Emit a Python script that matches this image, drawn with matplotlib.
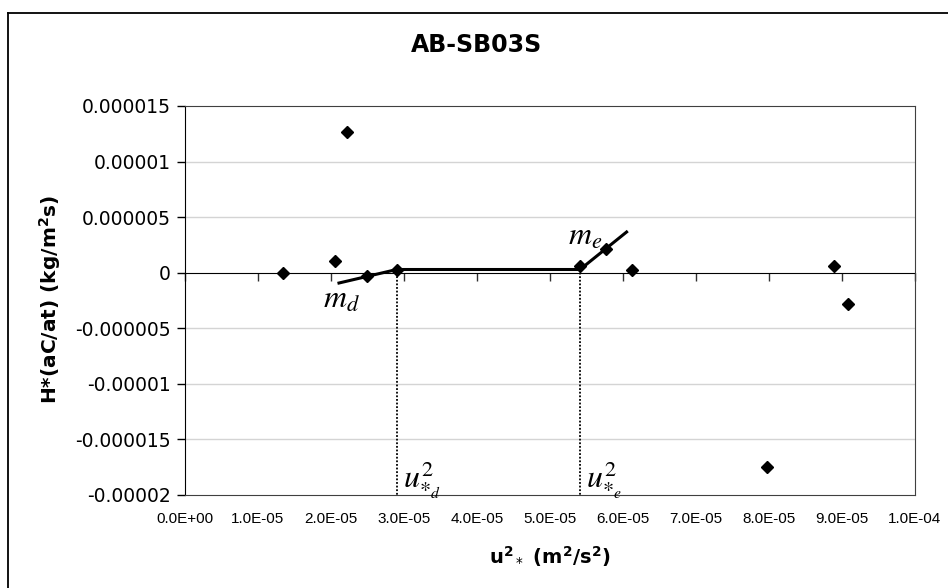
import matplotlib
matplotlib.use('Agg')
import matplotlib.pyplot as plt
from matplotlib.lines import Line2D
from matplotlib.ticker import FixedLocator, FixedFormatter

# measured points (u*^2 in m2/s2, H*(aC/at) in kg/m2s)
u2 = [1.34e-5, 2.06e-5, 2.22e-5, 2.49e-5, 2.91e-5, 5.415e-5, 5.77e-5, 6.13e-5, 7.97e-5, 8.89e-5, 9.08e-5]
flux = [0.0, 1.08e-6, 12.7e-6, -0.27e-6, 0.27e-6, 0.57e-6, 2.16e-6, 0.27e-6, -17.5e-6, 0.57e-6, -2.85e-6]

# fitted segments
md_x = [2.11e-5, 2.91e-5]
md_y = [-0.93e-6, 0.3e-6]
flat_x = [2.91e-5, 5.415e-5]
flat_y = [0.3e-6, 0.3e-6]
me_x = [5.415e-5, 6.05e-5]
me_y = [0.3e-6, 3.66e-6]
u_d = 2.91e-5
u_e = 5.415e-5

xticks = [i * 1e-5 for i in range(11)]
xlabels = ['0.0E+00', '1.0E-05', '2.0E-05', '3.0E-05', '4.0E-05', '5.0E-05',
           '6.0E-05', '7.0E-05', '8.0E-05', '9.0E-05', '1.0E-04']
yticks = [1.5e-5, 1e-5, 5e-6, 0, -5e-6, -1e-5, -1.5e-5, -2e-5]
ylabels = ['0.000015', '0.00001', '0.000005', '0', '-0.000005', '-0.00001', '-0.000015', '-0.00002']

fig = plt.figure(figsize=(9.48, 5.88), dpi=100)
ax = fig.add_axes([0.1951, 0.1582, 0.7700, 0.6616])
ax.set_xlim(0, 1e-4)
ax.set_ylim(-2e-5, 1.5e-5)

# gridlines
for v in yticks:
    if v not in (0, -2e-5, 1.5e-5):
        ax.axhline(v, color='#d4d4d4', lw=1.0, zorder=0)

ax.yaxis.set_major_locator(FixedLocator(yticks))
ax.yaxis.set_major_formatter(FixedFormatter(ylabels))
ax.tick_params(axis='y', direction='out', length=6, width=1, color='black', labelsize=13.5, pad=4)
ax.xaxis.set_major_locator(FixedLocator(xticks))
ax.xaxis.set_major_formatter(FixedFormatter(xlabels))
ax.tick_params(axis='x', length=0, pad=12, labelsize=11)
for lab in ax.get_xticklabels():
    lab.set_family(['Liberation Sans', 'DejaVu Sans'])

for s in ['top', 'right', 'bottom']:
    ax.spines[s].set_color('#404040')
ax.spines['left'].set_color('black')

# horizontal axis crossing at zero
sec = ax.secondary_xaxis(20 / 35)
sec.set_xticks(xticks)
sec.set_xticklabels([])
sec.tick_params(direction='in', length=6, width=1, color='#303030')
sec.spines['bottom'].set_color('#808080')
sec.spines['bottom'].set_linewidth(1.6)

# dotted verticals
ax.plot([u_d, u_d], [flat_y[0], -2e-5], color='black', lw=1.3, ls=(0, (1, 1)), zorder=3)
ax.plot([u_e, u_e], [flat_y[1], -2e-5], color='black', lw=1.3, ls=(0, (1, 1)), zorder=3)

# fits
ax.plot(md_x, md_y, color='black', lw=2.2, zorder=4)
ax.plot(flat_x, flat_y, color='black', lw=2.2, zorder=4)
ax.plot(me_x, me_y, color='black', lw=2.2, zorder=4)

ax.plot(u2, flux, ls='none', marker='D', ms=6, color='black', zorder=5)

ax.text(1.89e-5, -3.15e-6, r'$m_d$', fontsize=23, math_fontfamily='stix', va='baseline')
ax.text(5.247e-5, 2.52e-6, r'$m_e$', fontsize=23, math_fontfamily='stix', va='baseline')
ax.text(u_d + 0.08e-5, -19.3e-6, r'$u_{*_d}^2$', fontsize=23, math_fontfamily='stix', va='baseline')
ax.text(u_e + 0.08e-5, -19.3e-6, r'$u_{*_e}^2$', fontsize=23, math_fontfamily='stix', va='baseline')

fig.text(0.503, 0.9235, 'AB-SB03S', fontsize=17, fontweight='bold', ha='center', va='center')
fig.text(0.0527, 0.4898, r'H*(aC/at) (kg/m$\mathbf{^2}$s)', fontsize=14.5, fontweight='bold',
         rotation=90, ha='center', va='center')
fig.text(0.580, 0.0527, r'u$\mathbf{^2}$$_*$ (m$\mathbf{^2}$/s$\mathbf{^2}$)', fontsize=14,
         fontweight='bold', ha='center', va='center')

# chart frame (left and top edge)
fig.add_artist(Line2D([8 / 948, 8 / 948], [0, 1 - 13 / 588], transform=fig.transFigure, color='black', lw=1.3))
fig.add_artist(Line2D([8 / 948, 1], [1 - 13 / 588, 1 - 13 / 588], transform=fig.transFigure, color='black', lw=1.3))

fig.savefig('out.png', dpi=100)
